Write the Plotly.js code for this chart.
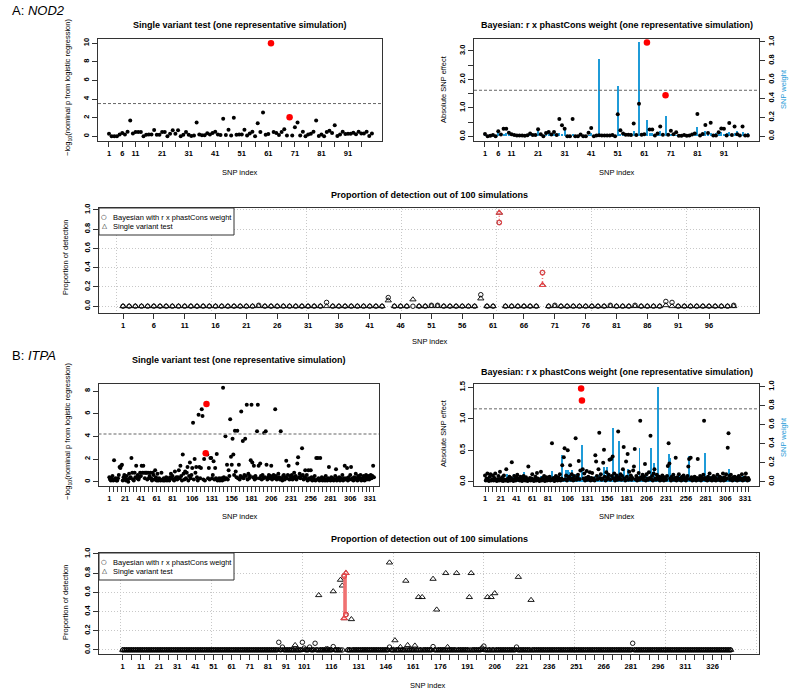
<!DOCTYPE html>
<html><head><meta charset="utf-8">
<script src="https://cdn.plot.ly/plotly-3.0.1.min.js"></script>
<style>html,body{margin:0;padding:0;background:#fff;}#chart{width:791px;height:693px;}</style>
</head><body><div id="chart"></div>
<script>
// ================= Panel A : NOD2 (100 SNPs) =================
const A_single_logp = [
 0.29,0,0,0,0.2,0.36,0.2,0.5,1.7,0.3,
 0.47,0.47,0.47,0,0.18,0.2,0.2,0.68,0.18,0.18,
 0.47,0.47,0,0.28,0.65,0.28,0.65,0,0.18,0.47,
 0.18,0.05,0.1,1.48,0.2,0.12,0.12,0.32,0.2,0.35,
 0.5,0.2,0.15,1.9,0.15,0.72,0.1,2.0,0.18,0.2,
 0.2,0.72,0.1,0.3,0.5,0,1.4,0.47,2.55,0.18,
 0.25,10.0,0.47,0.35,0.15,0.47,0.75,0.1,2.05,0.1,
 0.97,1.48,0.1,0.5,0,0.2,0.28,0.5,1.7,0.05,
 0.2,0,0.47,0.6,0.35,1.18,0.05,0.2,0.5,0.25,
 0.28,0.28,0.38,0.22,0.5,0.3,0.3,0.5,0.05,0.3];
const A_bayes_effect = [
 0.09,0.01,0.02,0.05,0.01,0.18,0.07,0.27,0.27,0.13,
 0.08,0.05,0.03,0.03,0.03,0.02,0.04,0.1,0.05,0.05,
 0.25,0.08,0.01,0.12,0.16,0.07,0.16,0.05,0.61,0.39,
 0.27,0.01,0.01,0.61,0.01,0.01,0.07,0.01,0.01,0.13,
 0.3,0.01,0.03,0.04,0.03,0.03,0.03,0.03,0.05,0.01,
 0.78,0.22,0.1,0.06,0.06,0.05,0.45,0.05,1.15,0.06,
 0.08,3.3,0.24,0.24,0.03,0.1,0.35,0.06,1.45,0.06,
 0.2,0.08,0.15,0.02,0.02,0.05,0.02,0.03,0.07,0.1,
 0.79,0.03,0.09,0.4,0.12,0.48,0.03,0.03,0.15,0.28,
 0.27,0.03,0.47,0.05,0.35,0.08,0.03,0.35,0.03,0.03];
const A_weight = [
 0.01,0,0.01,0.01,0,0.05,0.01,0.02,0.03,0.04,
 0.01,0,0.01,0,0,0.01,0,0.01,0,0.02,
 0.06,0.02,0.01,0.02,0.03,0.01,0.02,0.01,0.03,0.02,
 0.09,0.01,0,0.02,0,0.01,0,0.01,0,0.01,
 0.03,0.01,0.01,0.82,0.01,0,0.01,0.02,0.01,0.01,
 0.53,0.02,0.04,0.01,0.02,0.03,0.06,0.02,1.0,0.01,
 0.02,0.17,0.03,0.04,0.02,0.05,0.06,0.03,0.22,0.01,
 0.02,0.03,0.01,0.02,0.01,0.01,0.01,0.02,0.03,0.02,
 0.1,0.02,0.03,0.06,0.03,0.04,0.02,0.04,0.03,0.05,
 0.02,0.03,0.05,0.02,0.04,0.06,0.02,0.05,0.01,0.03];
const A_prop_bayes = [
 0,0,0,0,0,0,0,0,0,0,
 0,0,0,0,0,0,0,0,0,0,
 0,0,0.01,0,0,0,0,0,0,0,
 0,0,0,0.04,0,0,0,0,0,0,
 0,0,0,0.09,0,0,0,0,0,0,
 0.01,0.01,0,0,0,0,0,0,0.12,0,
 0,0.87,0,0,0,0,0,0,0.35,0,
 0.01,0,0,0,0,0,0,0,0,0.01,
 0,0,0,0.01,0,0,0,0,0.05,0.04,
 0,0,0,0,0,0,0,0,0,0.01];
const A_prop_single = [
 0,0,0,0,0,0,0,0,0,0,
 0,0,0,0,0,0,0,0,0,0,
 0,0,0,0,0,0,0,0,0,0,
 0,0,0,0,0,0,0,0,0,0,
 0,0,0,0.06,0,0,0,0.07,0,0,
 0,0,0,0,0,0,0,0,0.08,0,
 0,0.97,0,0,0,0,0,0,0.22,0,
 0,0,0,0,0,0,0,0,0,0,
 0,0,0,0,0,0,0,0,0.01,0,
 0,0,0,0,0,0,0,0,0,0];
const A_causal = [62, 69];
const A_thresh_single = 3.52;
const A_thresh_bayes = 1.62;
const A_top_ticklabels = [1,6,11,21,31,41,51,61,71,81,91];
const A_prop_ticklabels = [1,6,11,16,21,26,31,36,41,46,51,56,61,66,71,76,81,86,91,96];
const A_prop_grid = [0,15.4,30.8,46.2,61.6,77,92.4];

// ================= Panel B : ITPA (336 SNPs) =================
const B_single_logp = [
 0.4,0.2,0.1,0.3,0.5,0.1,1.9,0.2,0.3,0.1,
 0.1,0.3,0.6,1.3,1.2,1.4,1.5,0.1,0.4,0.6,
 0.3,0.1,0.5,0.2,0.0,0.7,0.3,0.4,2.1,0.8,
 0.2,0.1,0.8,0.4,1.4,0.3,0.6,0.2,0.4,0.8,
 0.5,1.4,0.8,1.4,0.8,0.3,0.8,0.8,0.2,0.8,
 0.3,0.5,0.8,0.3,0.1,0.8,0.6,0.2,1.0,0.4,
 0.1,0.7,0.1,0.3,0.2,0.1,0.8,0.2,0.1,0.3,
 0.1,0.2,0.4,0.1,0.3,0.2,0.1,0.4,0.7,0.3,
 0.5,0.2,0.1,0.9,0.3,0.4,0.2,0.4,1.0,0.3,
 1.4,0.5,0.1,2.4,0.7,0.2,0.9,0.3,0.8,1.3,
 0.1,0.5,1.7,0.3,0.6,1.2,5.2,0.2,2.0,0.8,
 1.3,0.4,0.1,5.9,1.3,0.3,1.2,6.4,5.8,0.2,
 2.0,0.1,2.5,6.85,2.4,0.3,1.2,0.2,2.1,2.1,
 0.3,0.6,1.8,0.2,1.2,0.3,2.45,0.1,0.2,0.3,
 0.1,0.2,0.3,0.1,8.3,0.4,0.2,4.0,0.3,1.5,
 0.2,1.0,0.5,5.5,2.2,1.5,3.8,2.4,0.6,4.5,
 0.9,0.4,4.5,0.3,1.5,0.2,0.5,6.2,0.4,3.6,
 0.3,0.6,3.8,0.5,6.8,0.2,0.7,0.3,0.5,1.9,
 6.8,1.7,0.4,1.4,0.2,0.5,0.3,4.45,6.8,1.4,
 0.3,1.6,0.5,0.2,0.6,0.3,4.3,0.4,4.45,1.5,
 0.2,0.4,0.6,0.3,0.5,1.4,0.2,0.4,0.6,0.3,
 6.4,0.5,0.2,0.3,0.7,0.4,0.2,4.45,0.3,0.1,
 0.5,0.6,0.2,0.4,1.85,0.3,0.6,1.4,0.2,0.5,
 0.3,0.6,0.2,0.4,0.8,0.3,0.5,0.2,1.6,2.15,
 0.4,0.7,0.3,0.5,2.95,0.6,0.2,0.4,1.0,0.3,
 0.6,0.1,1.0,0.3,0.2,1.0,0.4,0.1,0.3,0.2,
 0.5,0.1,2.1,0.2,2.1,0.3,0.1,2.1,0.2,0.4,
 0.1,0.3,0.2,0.1,0.5,0.2,0.1,0.3,1.3,0.2,
 0.1,0.4,0.2,0.3,0.1,0.2,0.5,1.1,0.1,0.3,
 0.2,0.4,0.1,0.3,0.2,0.6,0.1,0.3,1.4,0.2,
 0.3,1.2,0.1,0.4,0.2,0.6,1.3,0.2,0.3,0.1,
 0.4,0.2,0.7,0.3,0.1,0.5,0.2,0.3,0.6,0.1,
 0.3,0.2,0.5,0.1,0.4,0.6,0.2,0.3,0.5,0.2,
 0.4,0.6,0.3,0.5,1.4,0.4];
const B_bayes_effect = [
 0.1,0.02,0.05,0.13,0.03,0.01,0.08,0.12,0.02,0.04,
 0.1,0.02,0.06,0.13,0.03,0.01,0.04,0.09,0.02,0.16,
 0.05,0.02,0.07,0.01,0.1,0.03,0.02,0.2,0.04,0.01,
 0.05,0.08,0.02,0.06,0.31,0.03,0.01,0.09,0.04,0.02,
 0.07,0.11,0.03,0.05,0.02,0.08,0.04,0.01,0.06,0.09,
 0.03,0.02,0.07,0.04,0.01,0.24,0.03,0.06,0.02,0.05,
 0.12,0.04,0.01,0.03,0.08,0.02,0.14,0.05,0.03,0.01,
 0.04,0.16,0.02,0.06,0.03,0.09,0.01,0.04,0.07,0.02,
 0.05,0.03,0.08,0.02,0.04,0.61,0.03,0.06,0.01,0.05,
 0.09,0.03,0.02,0.07,0.04,0.12,0.02,0.05,0.26,0.03,
 0.39,0.53,0.04,0.1,0.02,0.5,0.06,0.08,0.26,0.03,
 0.12,0.05,0.02,0.09,0.04,0.69,0.03,0.07,0.11,0.33,
 0.04,0.18,1.48,1.29,0.2,0.05,0.13,0.02,0.06,0.17,
 0.03,0.08,0.04,0.15,0.02,0.06,0.14,0.03,0.05,0.02,
 0.42,0.32,0.09,0.04,0.2,0.78,0.06,0.12,0.03,0.05,
 0.3,0.51,0.08,0.02,0.15,0.04,0.07,0.11,0.35,0.03,
 0.36,0.09,0.4,0.05,0.13,0.02,0.06,0.1,0.03,0.8,
 0.07,0.04,0.12,0.03,0.09,0.2,0.55,0.05,0.02,0.32,
 0.08,0.44,0.03,0.16,0.05,0.1,0.03,0.06,0.18,0.24,
 0.52,0.04,0.09,0.02,0.06,0.14,0.03,0.97,0.07,0.05,
 0.11,0.03,0.08,0.28,0.02,0.12,0.05,0.03,0.15,0.06,
 0.73,0.04,0.09,0.02,0.13,0.2,0.05,0.03,0.11,0.07,
 0.04,0.08,0.02,0.06,0.03,0.1,0.05,0.02,0.07,0.04,
 0.03,0.09,0.25,0.61,0.29,0.05,0.02,0.08,0.04,0.11,
 0.03,0.06,0.38,0.02,0.07,0.04,0.12,0.03,0.05,0.02,
 0.08,0.04,0.1,0.03,0.06,0.02,0.05,0.09,0.24,0.36,
 0.04,0.38,0.07,0.02,0.05,0.03,0.08,0.04,0.02,0.06,
 0.36,0.03,0.05,0.09,0.02,0.07,0.04,0.11,0.97,0.06,
 0.03,0.05,0.02,0.08,0.04,0.13,0.03,0.06,0.02,0.05,
 0.09,0.03,0.07,0.02,0.04,0.11,0.03,0.05,0.08,0.02,
 0.06,0.04,0.13,0.02,0.07,0.03,0.12,0.05,0.54,0.77,
 0.09,0.03,0.11,0.05,0.02,0.07,0.04,0.08,0.03,0.06,
 0.02,0.05,0.09,0.03,0.06,0.04,0.12,0.02,0.05,0.03,
 0.07,0.13,0.04,0.02,0.06,0.03];
const B_weight = [
 0.02,0.01,0.03,0.01,0.02,0.05,0.01,0.02,0.01,0.03,
 0.02,0.06,0.01,0.02,0.03,0.01,0.02,0.04,0.01,0.02,
 0.03,0.01,0.02,0.05,0.01,0.02,0.03,0.01,0.08,0.02,
 0.01,0.03,0.02,0.01,0.05,0.02,0.03,0.08,0.01,0.02,
 0.03,0.01,0.02,0.04,0.01,0.03,0.02,0.01,0.05,0.1,
 0.02,0.01,0.03,0.02,0.01,0.04,0.02,0.03,0.01,0.02,
 0.05,0.01,0.02,0.03,0.01,0.02,0.04,0.01,0.02,0.03,
 0.01,0.06,0.02,0.01,0.03,0.02,0.01,0.04,0.02,0.01,
 0.03,0.02,0.01,0.05,0.02,0.11,0.01,0.03,0.02,0.01,
 0.04,0.02,0.01,0.03,0.02,0.05,0.01,0.02,0.28,0.03,
 0.04,0.06,0.02,0.12,0.03,0.12,0.02,0.1,0.04,0.02,
 0.12,0.03,0.02,0.05,0.01,0.08,0.02,0.03,0.04,0.06,
 0.02,0.05,0.03,0.39,0.04,0.02,0.05,0.01,0.03,0.06,
 0.02,0.04,0.01,0.06,0.02,0.03,0.05,0.02,0.04,0.01,
 0.06,0.03,0.02,0.05,0.04,0.07,0.02,0.03,0.05,0.02,
 0.04,0.15,0.03,0.02,0.05,0.16,0.03,0.04,0.08,0.02,
 0.05,0.03,0.57,0.04,0.02,0.06,0.03,0.05,0.02,0.04,
 0.43,0.03,0.06,0.02,0.05,0.03,0.12,0.04,0.02,0.06,
 0.03,0.05,0.13,0.02,0.04,0.03,0.07,0.02,0.05,0.03,
 0.04,0.06,0.02,0.05,0.03,0.04,0.36,0.03,0.05,0.02,
 0.06,0.03,0.04,0.05,0.02,0.06,0.03,0.04,0.02,0.05,
 0.03,0.36,0.04,0.02,0.06,0.2,0.03,0.05,0.08,1.0,
 0.04,0.02,0.05,0.03,0.06,0.02,0.04,0.03,0.05,0.02,
 0.03,0.05,0.02,0.04,0.29,0.25,0.03,0.05,0.02,0.04,
 0.03,0.06,0.02,0.05,0.03,0.04,0.02,0.06,0.03,0.02,
 0.04,0.03,0.05,0.02,0.04,0.03,0.06,0.02,0.05,0.27,
 0.04,0.03,0.05,0.02,0.04,0.06,0.03,0.02,0.05,0.03,
 0.04,0.02,0.05,0.03,0.06,0.02,0.04,0.03,0.05,0.3,
 0.03,0.05,0.02,0.04,0.03,0.06,0.02,0.04,0.03,0.05,
 0.02,0.04,0.03,0.05,0.02,0.06,0.03,0.04,0.02,0.05,
 0.03,0.04,0.06,0.02,0.05,0.03,0.04,0.02,0.05,0.03,
 0.13,0.04,0.02,0.05,0.03,0.04,0.06,0.02,0.03,0.05,
 0.02,0.04,0.03,0.05,0.02,0.04,0.03,0.06,0.02,0.04,
 0.03,0.05,0.02,0.04,0.03,0.02];
const B_prop_single = [
 0,0,0,0,0,0,0,0,0,0,  0,0,0,0,0,0,0,0,0,0,
 0,0,0,0,0,0,0,0,0,0,  0,0,0,0,0,0,0,0,0,0,
 0,0,0,0,0,0,0,0,0,0,  0,0,0,0,0,0,0,0,0,0,
 0,0,0,0,0,0,0,0,0,0,  0,0,0,0,0,0,0,0,0,0,
 0,0,0,0,0,0,0,0,0,0,
 0,0,0,0,0,0.05,0,0,0,0,
 0,0,0,0,0,0,0,0,0.57,0,
 0,0,0.01,0.01,0,0,0.61,0,0,0,
 0.73,0.67,0.33,0.80,0,0,0.32,0,0,0,
 0,0,0,0,0,0,0,0,0,0,
 0,0,0,0,0,0,0,0.91,0,0,
 0.1,0,0,0.03,0,0,0.72,0.05,0,0,
 0,0.045,0,0.55,0,0.55,0,0,0,0,
 0,0.74,0,0.42,0,0,0,0,0.8,0.03,
 0,0,0,0,0.8,0,0,0,0,0,
 0,0.55,0.8,0,0,0,0,0,0,0,
 0,0.55,0,0.55,0,0.59,0,0,0,0,
 0,0,0,0,0,0,0,0,0.76,0,
 0,0,0,0,0,0.52,0,0,0,0,
 0,0,0,0,0,0,0,0,0,0,  0,0,0,0,0,0,0,0,0,0,
 0,0,0,0,0,0,0,0,0,0,  0,0,0,0,0,0,0,0,0,0,
 0,0,0,0,0,0,0,0,0,0,  0,0,0,0,0,0,0,0,0,0,
 0,0,0,0,0,0,0,0,0,0,  0,0,0,0,0,0,0,0,0,0,
 0,0,0,0,0,0,0,0,0,0,  0,0,0,0,0,0,0,0,0,0,
 0,0,0,0,0,0];
const B_prop_bayes = [
 0,0,0,0,0,0,0,0,0,0,  0,0,0,0,0,0,0,0,0,0,
 0,0,0,0,0,0,0,0,0,0,  0,0,0,0,0,0,0,0,0,0,
 0,0,0,0,0,0,0,0,0,0,  0,0,0,0,0,0,0,0,0,0,
 0,0,0,0,0,0,0,0,0,0,  0,0,0,0,0,0,0,0,0,0,
 0,0,0,0,0,0,0.08,0,0.03,0,
 0,0,0,0,0,0,0,0,0,0.08,
 0.02,0,0,0.03,0,0,0.07,0,0,0,
 0,0,0,0,0,0,0.035,0,0,0,
 0,0,0.77,0.37,0,0,0,0,0,0,
 0,0,0,0,0,0,0,0,0,0,
 0,0,0,0,0,0,0,0.03,0,0,
 0,0,0,0,0,0,0,0,0,0,
 0,0,0,0,0,0,0,0,0,0,
 0,0.035,0,0,0,0,0,0,0,0,
 0,0,0,0,0,0,0,0,0,0,
 0,0,0,0,0,0,0,0,0.02,0.04,
 0,0,0,0,0,0,0,0,0,0,
 0,0,0,0,0,0,0,0.03,0,0,
 0,0,0,0,0,0,0,0,0,0,
 0,0,0,0,0,0,0,0,0,0,  0,0,0,0,0,0,0,0,0,0,
 0,0,0,0,0,0,0,0,0,0,  0,0,0,0,0,0,0,0,0,0,
 0,0,0,0,0,0,0,0,0,0,
 0,0.07,0,0,0,0,0,0,0,0,
 0,0,0,0,0,0,0,0,0,0,  0,0,0,0,0,0,0,0,0,0,
 0,0,0,0,0,0,0,0,0,0,  0,0,0,0,0,0,0,0,0,0,
 0,0,0,0,0,0];
const B_causal = [123, 124];
const B_thresh_single = 4.21;
const B_thresh_bayes = 1.16;
const B_top_ticklabels = [1,21,41,61,81,106,131,156,181,206,231,256,281,306,331];
const B_prop_ticklabels = [1,11,21,31,41,51,61,71,81,91,101,116,131,146,161,176,191,206,221,236,251,266,281,296,311,326];
const B_prop_grid = [0,50,100,150,200,250,300,350];
const legend_labels = ['Bayesian with r x phastCons weight', 'Single variant test'];

// ================= drawing =================
const W = 791, H = 693;
const F = '"Liberation Sans", Arial, Helvetica, sans-serif';
const BLUE = '#1f9bd8';
const RED = '#ff0000';
const LRED = '#e8464a';
const dx = (a, b) => [a / W, b / W];
const dy = (t, b) => [1 - b / H, 1 - t / H];
const idx = n => Array.from({length: n}, (_, i) => i + 1);
const every5 = n => { const v = []; for (let i = 1; i <= n; i += 5) v.push(i); return v; };
const labelled = (vals, labs) => vals.map(v => labs.includes(v) ? String(v) : '');
const pick = (arr, ids) => ids.map(i => arr[i - 1]);

const tickfont = {family: F, size: 7.5, color: '#000', weight: 'bold'};
function xAx(domain, range, anchor, n, labs, extra) {
  const tv = every5(n);
  return Object.assign({domain, range, anchor, tickmode: 'array', tickvals: tv, ticktext: labelled(tv, labs),
    ticks: 'outside', ticklen: 5, tickwidth: 1, tickcolor: '#333', showline: true, linecolor: '#333', linewidth: 1,
    mirror: true, showgrid: false, zeroline: false, tickangle: 0, tickfont, fixedrange: true}, extra || {});
}
function yAx(domain, range, anchor, tickvals, ticktext, extra) {
  return Object.assign({domain, range, anchor, tickmode: 'array', tickvals, ticktext,
    ticks: 'outside', ticklen: 5, tickwidth: 1, tickcolor: '#333', showline: true, linecolor: '#333', linewidth: 1,
    mirror: false, showgrid: false, zeroline: false, tickangle: -90, tickfont, fixedrange: true}, extra || {});
}

const nA = A_single_logp.length, nB = B_single_logp.length;
const xA = idx(nA), xB = idx(nB);
const w01 = [0, 0.2, 0.4, 0.6, 0.8, 1.0], w01t = ['0.0','0.2','0.4','0.6','0.8','1.0'];
const dotGrid = {showgrid: true, gridcolor: '#c8c8c8', griddash: '1px,2px', gridwidth: 1};

function segs(ids, a, b) {
  const x = [], y = [];
  ids.forEach(i => { x.push(i, i, null); y.push(a[i - 1], b[i - 1], null); });
  return {x, y};
}

const traces = [];
const pts = (x, y, xa, ya, color, size) => ({type: 'scatter', mode: 'markers', x, y, xaxis: xa, yaxis: ya,
  marker: {color, size}, showlegend: false});
// A1 single variant test
traces.push(pts(xA, A_single_logp, 'x', 'y', '#000', 4));
traces.push(pts(A_causal, pick(A_single_logp, A_causal), 'x', 'y', RED, 6.5));
// A2 Bayesian
traces.push({type: 'bar', x: xA, y: A_weight, xaxis: 'x2', yaxis: 'y2', width: 0.75,
  marker: {color: BLUE, line: {width: 0}}, showlegend: false});
traces.push(pts(xA, A_bayes_effect, 'x2', 'y3', '#000', 4));
traces.push(pts(A_causal, pick(A_bayes_effect, A_causal), 'x2', 'y3', RED, 6.5));
// B1
traces.push(pts(xB, B_single_logp, 'x4', 'y5', '#000', 4));
traces.push(pts(B_causal, pick(B_single_logp, B_causal), 'x4', 'y5', RED, 6.5));
// B2
traces.push({type: 'bar', x: xB, y: B_weight, xaxis: 'x5', yaxis: 'y6', width: 2.4,
  marker: {color: BLUE, line: {width: 0}}, showlegend: false});
traces.push(pts(xB, B_bayes_effect, 'x5', 'y7', '#000', 4));
traces.push(pts(B_causal, pick(B_bayes_effect, B_causal), 'x5', 'y7', RED, 6.5));

function propTraces(x, bayes, single, causal, xa, ya, segLine) {
  const s = segs(causal, single, bayes);
  return [
    {type: 'scatter', mode: 'markers', x, y: bayes, xaxis: xa, yaxis: ya, showlegend: false,
      marker: {symbol: 'circle-open', color: '#000', size: 4.5, line: {width: 0.9}}},
    {type: 'scatter', mode: 'markers', x, y: single, xaxis: xa, yaxis: ya, showlegend: false,
      marker: {symbol: 'triangle-up-open', color: '#000', size: 5.5, line: {width: 0.9}}},
    {type: 'scatter', mode: 'lines', x: s.x, y: s.y, xaxis: xa, yaxis: ya, showlegend: false, line: segLine},
    {type: 'scatter', mode: 'markers', x: causal, y: pick(bayes, causal), xaxis: xa, yaxis: ya, showlegend: false,
      marker: {symbol: 'circle-open', color: LRED, size: 4.5, line: {width: 1.1}}},
    {type: 'scatter', mode: 'markers', x: causal, y: pick(single, causal), xaxis: xa, yaxis: ya, showlegend: false,
      marker: {symbol: 'triangle-up-open', color: LRED, size: 5.5, line: {width: 1.1}}}
  ];
}
traces.push(...propTraces(xA, A_prop_bayes, A_prop_single, A_causal, 'x3', 'y4', {color: '#f07070', width: 1.5, dash: '1px,2px'}));
traces.push(...propTraces(xB, B_prop_bayes, B_prop_single, B_causal, 'x6', 'y8', {color: '#f07070', width: 1.8}));

const thr = (xref, yref, val, color, width) => ({type: 'line', xref: xref + ' domain', x0: 0, x1: 1, yref, y0: val, y1: val,
  line: {color, width, dash: '3px,2px'}});
const shapes = [
  thr('x', 'y', A_thresh_single, '#666', 1),
  thr('x2', 'y3', A_thresh_bayes, '#666', 1),
  thr('x4', 'y5', B_thresh_single, '#999', 1.6),
  thr('x5', 'y7', B_thresh_bayes, '#999', 1.6),
  // legend frames
  {type: 'rect', xref: 'paper', yref: 'paper', x0: 99 / W, x1: 234 / W, y0: 1 - 235 / H, y1: 1 - 208 / H,
    line: {color: '#333', width: 1}, fillcolor: '#fff', layer: 'above'},
  {type: 'rect', xref: 'paper', yref: 'paper', x0: 99 / W, x1: 234 / W, y0: 1 - 580 / H, y1: 1 - 553 / H,
    line: {color: '#333', width: 1}, fillcolor: '#fff', layer: 'above'}
];

function ann(text, xp, yp, o) {
  return Object.assign({text, x: xp / W, y: 1 - yp / H, xref: 'paper', yref: 'paper', showarrow: false,
    xanchor: 'center', yanchor: 'middle', font: {family: F, size: 7.5, color: '#000'}}, o || {});
}
const titleFont = {family: F, size: 9, color: '#000'};
const symFont = {family: '"DejaVu Sans", sans-serif', size: 6.5, color: '#000'};
const legendAnns = top => [
  ann('\u25CB', 104.5, top + 9, {font: symFont}),
  ann(legend_labels[0], 111, top + 9, {xanchor: 'left'}),
  ann('\u25B3', 104.5, top + 18, {font: symFont}),
  ann(legend_labels[1], 111, top + 18, {xanchor: 'left'})
];
const annotations = [
  ann('A: <i>NOD2</i>', 10, 11, {xanchor: 'left', font: {family: F, size: 13, color: '#000'}}),
  ann('<b>Single variant test (one representative simulation)</b>', 240, 25, {font: titleFont}),
  ann('<b>Bayesian: r x phastCons weight (one representative simulation)</b>', 616.5, 25, {font: titleFont}),
  ann('\u2212log<sub>10</sub>(nominal p from logistic regression)', 68, 88, {textangle: -90}),
  ann('Absolute SNP effect', 443, 89, {textangle: -90}),
  ann('SNP weight', 783, 89, {textangle: -90, font: {family: F, size: 7.5, color: BLUE}}),
  ann('SNP index', 240, 172), ann('SNP index', 617, 172),
  ann('<b>Proportion of detection out of 100 simulations</b>', 429, 195, {font: titleFont}),
  ann('Proportion of detection', 65, 258, {textangle: -90}),
  ann('SNP index', 430, 341),
  ann('B: <i>ITPA</i>', 10, 355, {xanchor: 'left', font: {family: F, size: 13, color: '#000'}}),
  ann('<b>Single variant test (one representative simulation)</b>', 239, 360, {font: titleFont}),
  ann('<b>Bayesian: r x phastCons weight (one representative simulation)</b>', 616.5, 372, {font: titleFont}),
  ann('\u2212log<sub>10</sub>(nominal p from logistic regression)', 68, 432, {textangle: -90}),
  ann('Absolute SNP effect', 443, 433, {textangle: -90}),
  ann('SNP weight', 783, 437, {textangle: -90, font: {family: F, size: 7.5, color: BLUE}}),
  ann('SNP index', 240, 516), ann('SNP index', 617, 516),
  ann('<b>Proportion of detection out of 100 simulations</b>', 429, 539, {font: titleFont}),
  ann('Proportion of detection', 65, 603, {textangle: -90}),
  ann('SNP index', 428, 685),
  ...legendAnns(208), ...legendAnns(553)
];

const layout = {
  width: W, height: H, margin: {l: 0, r: 0, t: 0, b: 0}, paper_bgcolor: '#fff', plot_bgcolor: 'rgba(0,0,0,0)',
  hovermode: false, dragmode: false, bargap: 0, showlegend: false,
  // A1
  xaxis: xAx(dx(98, 382), [-3.14, 103.8], 'y', nA, A_top_ticklabels),
  yaxis: yAx(dy(39, 141), [-0.5, 10.45], 'x', [0, 2, 4, 6, 8, 10], ['0', '2', '4', '6', '8', '10'], {mirror: true}),
  // A2
  xaxis2: xAx(dx(474, 759), [-3.14, 104.2], 'y2', nA, A_top_ticklabels),
  yaxis2: yAx(dy(39, 141), [-0.05, 1.03], 'x2', w01, w01t, {side: 'right'}),
  yaxis3: yAx(dy(39, 141), [-0.16, 3.42], 'x2', [0, 0.5, 1, 1.5, 2, 2.5, 3], ['0.0', '', '1.0', '', '2.0', '', '3.0'], {side: 'left', overlaying: 'y2'}),
  // A3
  xaxis3: xAx(dx(99, 759), [-2.89, 104.1], 'y4', nA, A_prop_ticklabels,
    {minor: Object.assign({tickmode: 'array', tickvals: A_prop_grid, ticks: ''}, dotGrid)}),
  yaxis4: yAx(dy(208, 313), [-0.07, 1.02], 'x3', w01, w01t, Object.assign({mirror: true}, dotGrid)),
  // B1
  xaxis4: xAx(dx(98.5, 379), [-12.7, 342.4], 'y5', nB, B_top_ticklabels),
  yaxis5: yAx(dy(384, 486), [-0.38, 8.62], 'x4', [0, 2, 4, 6, 8], ['0', '2', '4', '6', '8'], {mirror: true}),
  // B2
  xaxis5: xAx(dx(474, 759), [-12.96, 348.7], 'y6', nB, B_top_ticklabels),
  yaxis6: yAx(dy(384, 486), [-0.045, 1.028], 'x5', w01, w01t, {side: 'right'}),
  yaxis7: yAx(dy(384, 486), [-0.068, 1.553], 'x5', [0, 0.5, 1, 1.5], ['0.0', '0.5', '1.0', '1.5'], {side: 'left', overlaying: 'y6'}),
  // B3
  xaxis6: xAx(dx(99, 759), [-12.06, 351.6], 'y8', nB, B_prop_ticklabels,
    {minor: Object.assign({tickmode: 'array', tickvals: B_prop_grid, ticks: ''}, dotGrid)}),
  yaxis8: yAx(dy(553, 654), [-0.042, 1.01], 'x6', w01, w01t, Object.assign({mirror: true}, dotGrid)),
  shapes, annotations
};

Plotly.newPlot('chart', traces, layout, {staticPlot: true, displayModeBar: false});
</script>
</body></html>
